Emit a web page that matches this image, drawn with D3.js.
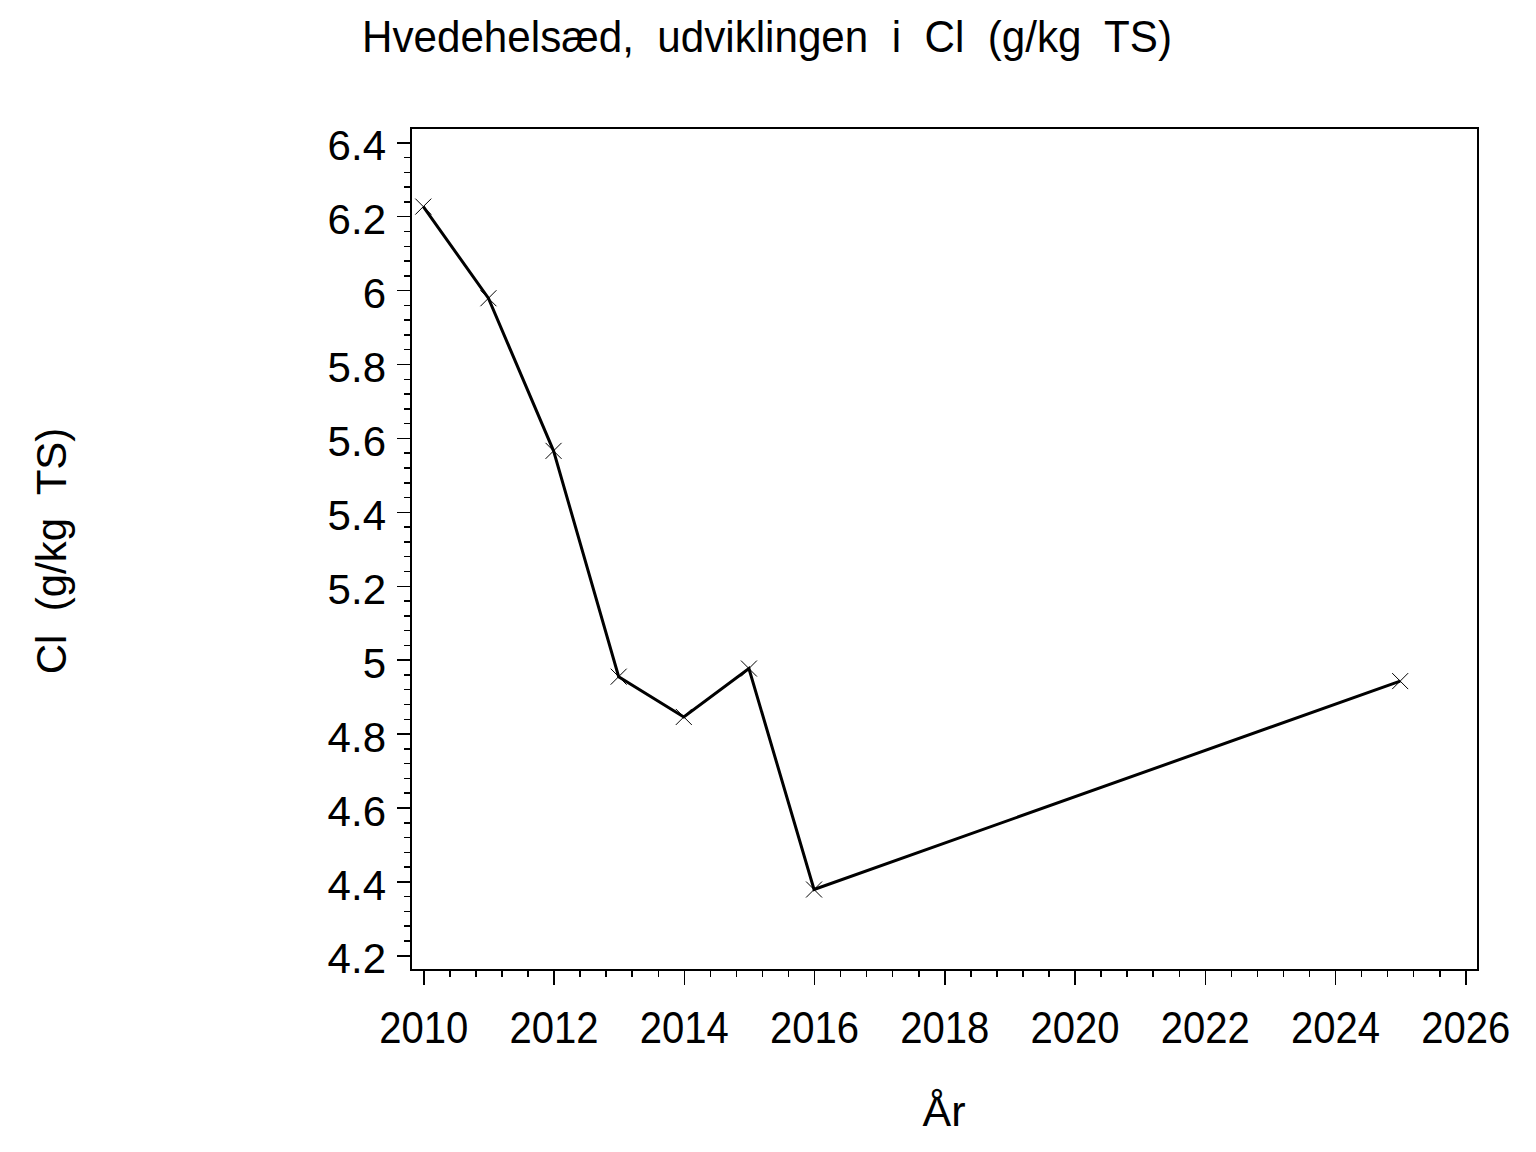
<!DOCTYPE html>
<html>
<head>
<meta charset="utf-8">
<script src="https://cdn.jsdelivr.net/npm/d3@7"></script>
<style>
  html, body { margin: 0; padding: 0; background: #fff; }
  svg { display: block; font-family: "Liberation Sans", Arial, sans-serif; }
</style>
</head>
<body>
<svg id="chart" width="1536" height="1152"></svg>
<script>
// ---- data ----
const years = [2010, 2011, 2012, 2013, 2014, 2015, 2016, 2025];
const clValues = [6.226, 5.978, 5.565, 4.954, 4.845, 4.976, 4.378, 4.942];
const yTicks = [4.2, 4.4, 4.6, 4.8, 5.0, 5.2, 5.4, 5.6, 5.8, 6.0, 6.2, 6.4];
const xTicks = [2010, 2012, 2014, 2016, 2018, 2020, 2022, 2024, 2026];
const titleText = "Hvedehelsæd,  udviklingen  i  Cl  (g/kg  TS)";
const yLabelText = "Cl  (g/kg  TS)";
const xLabelText = "År";

// ---- layout ----
const frame = { left: 411, right: 1478, top: 128, bottom: 970 };
const svg = d3.select("#chart");

const x = d3.scaleLinear().domain([2010, 2026]).range([423.3, 1465.3]);
const y = d3.scaleLinear().domain([4.2, 6.4]).range([955.3, 142.3]);

const fmt = d => d3.format("~g")(+d.toFixed(1));

// frame
svg.append("rect")
  .attr("x", frame.left).attr("y", frame.top)
  .attr("width", frame.right - frame.left).attr("height", frame.bottom - frame.top)
  .attr("fill", "none").attr("stroke", "#000").attr("stroke-width", 1.5)
  .attr("shape-rendering", "crispEdges");

// minor ticks
const yMinor = d3.range(0, 56).map(i => 4.2 + i * 0.04).filter(v => v <= 6.4001);
const xMinor = d3.range(0, 41).map(i => 2010 + i * 0.4);

const yMinorAxis = d3.axisLeft(y).tickValues(yMinor).tickSize(7).tickFormat("");
const yMajorAxis = d3.axisLeft(y).tickValues(yTicks).tickSize(14).tickPadding(11).tickFormat(fmt);
const xMinorAxis = d3.axisBottom(x).tickValues(xMinor).tickSize(7).tickFormat("");
const xMajorAxis = d3.axisBottom(x).tickValues(xTicks).tickSize(15).tickPadding(27).tickFormat(d3.format("d"));

function styleAxis(g, size) {
  g.select(".domain").remove();
  g.selectAll("line").attr("stroke", "#000").attr("stroke-width", 1.5).attr("shape-rendering", "crispEdges");
  g.selectAll("text").attr("fill", "#000").style("font-size", size + "px")
    .style("font-family", "'Liberation Sans', Arial, sans-serif");
  g.attr("font-size", null).attr("font-family", null);
}

svg.append("g").attr("transform", `translate(${frame.left},0)`).call(yMinorAxis).call(styleAxis, 42);
const gy = svg.append("g").attr("transform", `translate(${frame.left},0)`).call(yMajorAxis).call(styleAxis, 42);
gy.selectAll("text").attr("dy", "0.42em");
svg.append("g").attr("transform", `translate(0,${frame.bottom})`).call(xMinorAxis).call(styleAxis, 44);
const gx = svg.append("g").attr("transform", `translate(0,${frame.bottom})`).call(xMajorAxis).call(styleAxis, 44);
gx.selectAll("text").each(function () {
  const w = this.getComputedTextLength();
  d3.select(this).attr("textLength", w * 0.91).attr("lengthAdjust", "spacingAndGlyphs");
});

// line
const pts = years.map((yr, i) => ({ yr, v: clValues[i] }));
svg.append("path")
  .datum(pts)
  .attr("fill", "none").attr("stroke", "#000").attr("stroke-width", 3)
  .attr("stroke-linejoin", "miter")
  .attr("d", d3.line().x(d => x(d.yr)).y(d => y(d.v)));

// markers (X)
const m = 8;
svg.append("g").selectAll("path.mk").data(pts).join("path")
  .attr("class", "mk")
  .attr("d", d => {
    const cx = x(d.yr), cy = y(d.v);
    return `M${cx - m},${cy - m}L${cx + m},${cy + m}M${cx - m},${cy + m}L${cx + m},${cy - m}`;
  })
  .attr("stroke", "#000").attr("stroke-width", 1).attr("fill", "none");

// title
svg.append("text")
  .attr("x", 362).attr("y", 52)
  .attr("text-anchor", "start")
  .attr("textLength", 810).attr("lengthAdjust", "spacingAndGlyphs")
  .style("font-size", "45px").style("white-space", "pre")
  .text(titleText);

// y label
svg.append("text")
  .attr("transform", "translate(66,551) rotate(-90)")
  .attr("text-anchor", "middle")
  .style("font-size", "42px").style("white-space", "pre")
  .text(yLabelText);

// x label
svg.append("text")
  .attr("x", 944).attr("y", 1126)
  .attr("text-anchor", "middle")
  .style("font-size", "43px")
  .text(xLabelText);
</script>
</body>
</html>
